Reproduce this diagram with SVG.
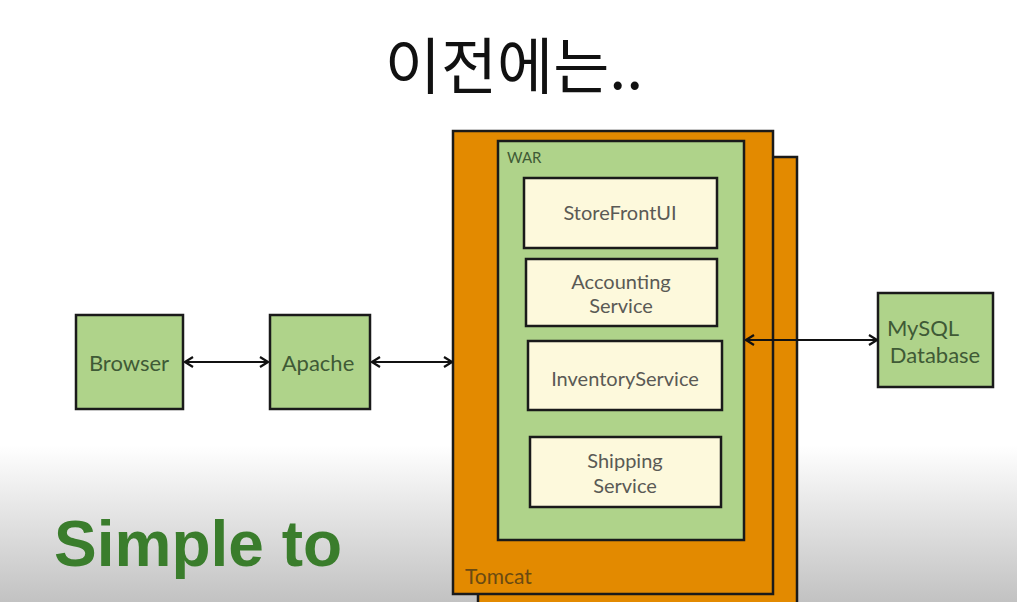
<svg xmlns="http://www.w3.org/2000/svg" width="1017" height="602" viewBox="0 0 1017 602">
<defs>
<linearGradient id="bg" x1="0" y1="0" x2="0" y2="1">
<stop offset="0" stop-color="#ffffff"/>
<stop offset="0.74" stop-color="#ffffff"/>
<stop offset="0.82" stop-color="#ececec"/>
<stop offset="1" stop-color="#c2c2c2"/>
</linearGradient>
<marker id="ah" viewBox="0 0 12 12" refX="11" refY="6" markerWidth="12" markerHeight="12" markerUnits="userSpaceOnUse" orient="auto-start-reverse">
<path d="M3,1 L11,6 L3,11" fill="none" stroke="#111" stroke-width="2.2"/>
</marker>
<style>
.box{stroke:#1a1a1a;stroke-width:2.5}
.green{fill:#afd38a}
.cream{fill:#fdf9dc}
.orange{fill:#e38a00}
.lbl{font-family:Lato,"Open Sans","Liberation Sans",sans-serif;font-size:22px;fill:#3f5a36;text-anchor:middle}
.svc{font-family:Lato,"Open Sans","Liberation Sans",sans-serif;font-size:20px;fill:#5a5a55;text-anchor:middle}
.conn{stroke:#111;stroke-width:2;fill:none;marker-start:url(#ah);marker-end:url(#ah)}
</style>
</defs>
<rect x="0" y="0" width="1017" height="602" fill="url(#bg)"/>
<text x="514" y="89" font-family="'Noto Sans CJK KR',sans-serif" font-size="61" fill="#111" text-anchor="middle">이전에는..</text>
<text x="54" y="566" font-family="'Liberation Sans',Arial,sans-serif" font-size="64" font-weight="bold" fill="#3a7d2c">Simple to</text>

<g id="tomcat-back"><rect class="box orange" x="478" y="157" width="319" height="460"/></g>
<g id="tomcat"><rect class="box orange" x="453" y="131" width="320" height="463"/>
<text x="465" y="584" font-family="Lato,'Liberation Sans',sans-serif" font-size="21" fill="#6a4a12">Tomcat</text></g>
<g id="war"><rect class="box green" x="498" y="141" width="246" height="399"/>
<text x="507" y="163" font-family="Lato,'Liberation Sans',sans-serif" font-size="15" fill="#3f5a36">WAR</text></g>
<g id="storefront"><rect class="box cream" x="524" y="178" width="193" height="70"/>
<text class="svc" x="620" y="220">StoreFrontUI</text></g>
<g id="accounting"><rect class="box cream" x="526" y="259" width="191" height="67"/>
<text class="svc" x="621" y="289">Accounting</text><text class="svc" x="621" y="313">Service</text></g>
<g id="inventory"><rect class="box cream" x="528" y="341" width="194" height="69"/>
<text class="svc" x="625" y="386">InventoryService</text></g>
<g id="shipping"><rect class="box cream" x="530" y="437" width="191" height="70"/>
<text class="svc" x="625" y="468">Shipping</text><text class="svc" x="625" y="493">Service</text></g>

<g id="browser"><rect class="box green" x="76" y="315" width="107" height="94"/>
<text class="lbl" x="129" y="371">Browser</text></g>
<g id="apache"><rect class="box green" x="270" y="315" width="100" height="94"/>
<text class="lbl" x="318" y="371">Apache</text></g>
<g id="mysql"><rect class="box green" x="878" y="293" width="115" height="94"/>
<text class="lbl" x="923" y="336">MySQL</text><text class="lbl" x="935" y="363">Database</text></g>

<g id="connectors">
<line class="conn" x1="185" y1="362" x2="268" y2="362"/>
<line class="conn" x1="372" y1="362" x2="452" y2="362"/>
<line class="conn" x1="746" y1="340" x2="877" y2="340"/>
</g>
</svg>
